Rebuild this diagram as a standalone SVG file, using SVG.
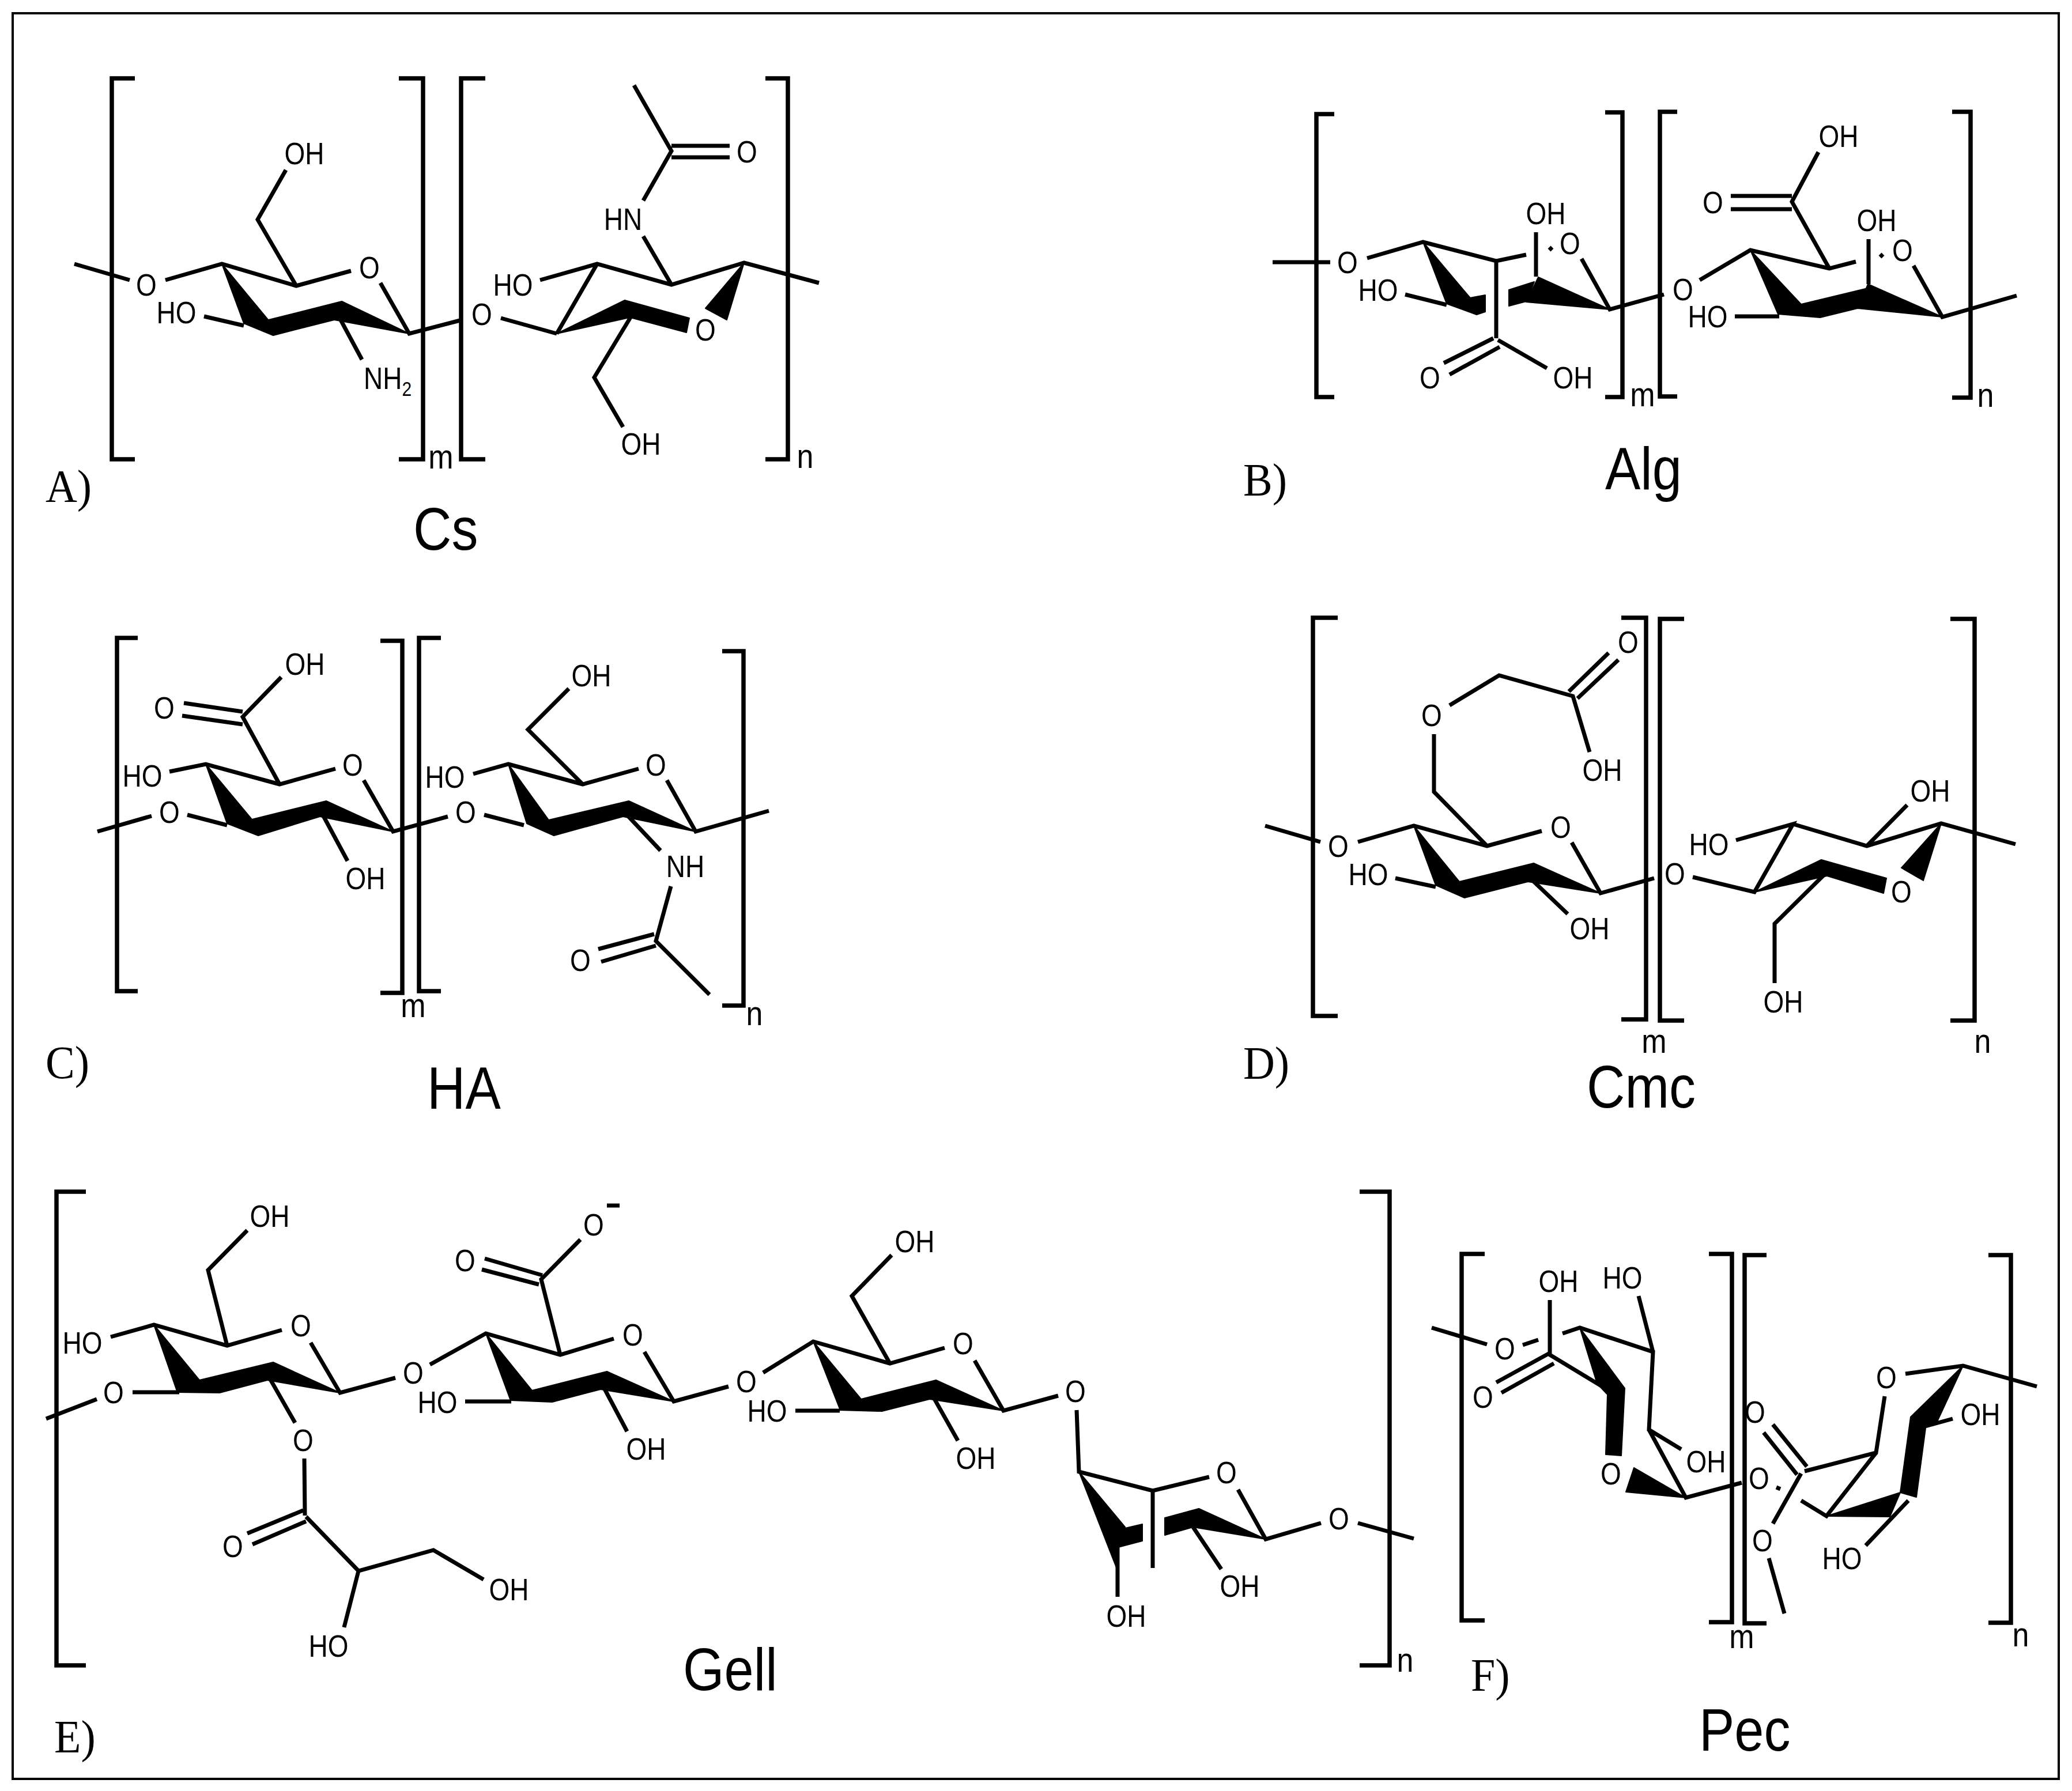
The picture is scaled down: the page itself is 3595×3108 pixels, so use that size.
<svg xmlns="http://www.w3.org/2000/svg" width="3595" height="3108" viewBox="0 0 3595 3108">
<style>
path.b{fill:none;stroke:#000;stroke-width:7;stroke-linejoin:miter}
path.k{fill:none;stroke:#000;stroke-width:7.5}
path.w{fill:#000;stroke:#000;stroke-width:2;stroke-linejoin:round}
text{font-family:"Liberation Sans",Arial,sans-serif;fill:#000;transform-box:fill-box;transform-origin:center}
text.a{font-size:46px;text-anchor:middle;transform:scaleY(1.18)}
text.s{font-size:52px;text-anchor:middle;transform:scaleY(1.15)}
text.t{font-size:92px;transform:translateY(3px) scaleY(1.12)}
text.p{font-family:"Liberation Serif","Times New Roman",serif;font-size:76px;transform:translateY(2px) scaleY(1.05)}
</style>
<rect width="3595" height="3108" fill="#fff"/>
<rect x="22" y="23" width="3550" height="3064" fill="none" stroke="#000" stroke-width="4"/>

<g id="panel-a">
<path class="k" d="M234 136H194V797H234M692 136H734V797H692M842 136H800V797H842M1328 136H1367V797H1328"/>
<path class="w" d="M385 458L423 561L466 556ZM423 561L474 582L580 555L593 523L466 555ZM710 579L593 523L580 555ZM966 579L1084 521L1097 550ZM1084 521L1196 552L1191 577L1090 550ZM1291 456L1224 535L1261 555Z"/>
<path class="b" d="M129 458L225 486M287 486L385 458L514 496L609 470M660 491L710 579L802 555M869 552L966 579M354 549L423 565M584 542L628 624M514 496L447 381L496 295M937 486L1036 458L1165 494L1291 456L1421 491M1036 458L966 579M1095 549L1031 655L1081 741M1165 494L1116 410M1116 348L1165 262L1100 148M1165 253H1266M1165 273H1266"/>
<text class="a" x="254" y="510">O</text><text class="a" x="641" y="480">O</text><text class="a" x="528" y="282">OH</text><text class="a" x="306" y="558">HO</text>
<text class="a" x="631" y="673" style="text-anchor:start">NH<tspan font-size="30" dy="10">2</tspan></text>
<text class="a" x="836" y="561">O</text><text class="a" x="890" y="510">HO</text><text class="a" x="1224" y="588">O</text><text class="a" x="1112" y="786">OH</text><text class="a" x="1081" y="396">HN</text><text class="a" x="1296" y="279">O</text>
<text class="s" x="765" y="810">m</text><text class="s" x="1397" y="809">n</text>
<text class="p" x="79" y="868">A)</text><text class="t" x="717" y="947">Cs</text>
</g>

<g id="panel-b">
<path class="k" d="M2315 198H2284V689H2315M2785 195H2815V689H2785M2910 194H2880V688H2910M3387 194H3419V690H3387"/>
<path class="w" d="M2469 420L2510 527L2550 516ZM2510 527L2562 546L2577 541V512L2550 517ZM2618 503L2662 489L2648 523L2618 531ZM2793 537L2669 481L2648 524ZM3037 434L3085 545L3125 528ZM3085 545L3158 551L3223 535L3241 500L3125 528ZM3370 550L3241 493L3223 535Z"/>
<path class="b" d="M2208 455H2308M2372 448L2469 420L2596 453L2648 442M2596 453V587M2665 403V480M2688 434L2693 429M2744 449L2793 537L2887 511M2949 486L3037 434L3174 466L3220 454M3174 466L3109 350L3155 264M3003 340H3109M3003 363H3109M3242 415V493M3262 446L3267 441M3320 461L3370 550L3499 513M2438 511L2510 529M2505 630L2591 587M2515 650L2602 602M2599 590L2684 639M3010 549H3087"/>
<text class="a" x="2338" y="471">O</text><text class="a" x="2682" y="386">OH</text><text class="a" x="2724" y="438">O</text><text class="a" x="2920" y="518">O</text><text class="a" x="3190" y="252">OH</text><text class="a" x="2972" y="367">O</text><text class="a" x="3256" y="398">OH</text><text class="a" x="3301" y="450">O</text><text class="a" x="2391" y="519">HO</text><text class="a" x="2481" y="671">O</text><text class="a" x="2729" y="671">OH</text><text class="a" x="2963" y="565">HO</text>
<text class="s" x="2850" y="702">m</text><text class="s" x="3445" y="703">n</text>
<text class="p" x="2157" y="857">B)</text><text class="t" x="2785" y="842">Alg</text>
</g>

<g id="panel-c">
<path class="k" d="M239 1107H203V1720H239M660 1112H698V1723H660M765 1107H727V1720H765M1253 1130H1290V1745H1253"/>
<path class="w" d="M357 1326L394 1429L437 1422ZM394 1429L448 1450L555 1417L566 1390L437 1422ZM682 1443L566 1390L555 1417ZM882 1326L914 1429L952 1423ZM914 1429L961 1450L1081 1417L1091 1390L952 1423ZM1207 1443L1091 1390L1081 1417Z"/>
<path class="b" d="M169 1443L263 1416M325 1414L394 1432M294 1339L357 1326L485 1361L582 1334M631 1354L682 1443L777 1417M485 1361L421 1244L488 1175M319 1220L421 1235M316 1242L421 1257M560 1414L603 1494M840 1414L909 1432M821 1343L882 1326L1011 1361L1108 1334M1157 1354L1207 1443L1334 1407M1011 1361L916 1266L987 1195M1083 1409L1146 1476M1164 1538L1138 1633L1231 1726M1038 1647L1135 1621M1043 1669L1138 1641"/>
<text class="a" x="294" y="1425">O</text><text class="a" x="247" y="1362">HO</text><text class="a" x="612" y="1343">O</text><text class="a" x="808" y="1425">O</text><text class="a" x="529" y="1168">OH</text><text class="a" x="285" y="1244">O</text><text class="a" x="634" y="1540">OH</text><text class="a" x="772" y="1364">HO</text><text class="a" x="1138" y="1343">O</text><text class="a" x="1026" y="1188">OH</text><text class="a" x="1189" y="1519">NH</text><text class="a" x="1007" y="1682">O</text>
<text class="s" x="717" y="1762">m</text><text class="s" x="1309" y="1776">n</text>
<text class="p" x="79" y="1868">C)</text><text class="t" x="741" y="1917">HA</text>
</g>

<g id="panel-d">
<path class="k" d="M2321 1072H2278V1763H2321M2813 1072H2856V1769H2813M2922 1074H2880V1771H2922M3384 1074H3426V1771H3384"/>
<path class="w" d="M2453 1433L2491 1536L2532 1530ZM2491 1536L2541 1558L2651 1530L2661 1498L2532 1530ZM2777 1550L2661 1498L2651 1530ZM3044 1548L3160 1492L3170 1520ZM3160 1492L3273 1524L3268 1550L3170 1520ZM3368 1429L3299 1506L3337 1528Z"/>
<path class="b" d="M2195 1433L2291 1461M2356 1461L2453 1433L2580 1468L2675 1442M2727 1462L2777 1550L2870 1524M2580 1468L2488 1374V1274M2515 1224L2601 1172L2729 1208L2758 1305M2722 1200L2791 1133M2737 1212L2808 1145M2421 1524L2491 1539M2655 1524L2720 1586M2937 1522L3044 1548L3111 1430L3012 1458M3111 1430L3239 1468L3368 1429L3497 1465M3239 1468L3309 1397M3165 1518L3079 1603V1706"/>
<text class="a" x="2322" y="1484">O</text><text class="a" x="2708" y="1451">O</text><text class="a" x="2906" y="1532">O</text><text class="a" x="2484" y="1257">O</text><text class="a" x="2825" y="1130">O</text><text class="a" x="2780" y="1352">OH</text><text class="a" x="2374" y="1533">HO</text><text class="a" x="2758" y="1627">OH</text><text class="a" x="2965" y="1481">HO</text><text class="a" x="3349" y="1388">OH</text><text class="a" x="3299" y="1563">O</text><text class="a" x="3094" y="1754">OH</text>
<text class="s" x="2870" y="1824">m</text><text class="s" x="3440" y="1824">n</text>
<text class="p" x="2157" y="1869">D)</text><text class="t" x="2753" y="1915">Cmc</text>
</g>

<g id="panel-e">
<path class="k" d="M149 2068H98V2890H149M2359 2068H2411V2890H2359"/>
<path class="w" d="M267 2299L307 2414L346 2395ZM307 2416L381 2417L464 2395L474 2364L346 2395ZM590 2417L474 2364L464 2395ZM843 2314L885 2428L923 2413ZM885 2430L958 2433L1042 2411L1053 2380L923 2413ZM1169 2432L1053 2380L1042 2411ZM1411 2328L1457 2445L1494 2428ZM1457 2447L1530 2449L1613 2428L1624 2395L1494 2428ZM1741 2448L1624 2395L1613 2428ZM1872 2554L1952 2650L1940 2671L1938 2723ZM1940 2685L1982 2674V2645L1952 2652L1940 2671ZM2021 2664V2634L2080 2618L2070 2650ZM2196 2671L2080 2618L2070 2650Z"/>
<path class="b" d="M80 2462L168 2428M230 2416H311M192 2320L267 2299L394 2335L489 2308M539 2330L590 2417L686 2391M394 2335L361 2204L429 2135M464 2385L512 2469M528 2531L529 2630M429 2661L526 2621M438 2680L531 2640M531 2632L622 2726L752 2690L839 2741M622 2726L597 2824M746 2368L843 2314L972 2351L1065 2323M1118 2346L1169 2432L1264 2406M972 2351L939 2220L1007 2151M841 2184L941 2213M836 2203L935 2229M807 2432H887M1043 2399L1088 2484M1053 2092H1075M1324 2382L1411 2328L1544 2366L1639 2339M1691 2361L1741 2448L1836 2422M1544 2366L1478 2249L1547 2178M1380 2448H1457M1613 2413L1662 2500M1868 2447L1872 2554L2000 2587L2098 2563M2148 2585L2196 2671L2292 2643M2356 2643L2453 2670M2000 2587V2721M2070 2650L2119 2723M1939 2671V2771"/>
<text class="a" x="197" y="2432">O</text><text class="a" x="143" y="2346">HO</text><text class="a" x="522" y="2316">O</text><text class="a" x="717" y="2398">O</text><text class="a" x="468" y="2126">OH</text><text class="a" x="526" y="2515">O</text><text class="a" x="404" y="2699">O</text><text class="a" x="883" y="2774">OH</text><text class="a" x="570" y="2872">HO</text>
<text class="a" x="1098" y="2332">O</text><text class="a" x="1030" y="2141">O</text><text class="a" x="807" y="2203">O</text><text class="a" x="759" y="2449">HO</text><text class="a" x="1121" y="2530">OH</text>
<text class="a" x="1295" y="2413">O</text><text class="a" x="1671" y="2347">O</text><text class="a" x="1587" y="2170">OH</text><text class="a" x="1331" y="2464">HO</text><text class="a" x="1693" y="2546">OH</text>
<text class="a" x="1866" y="2430">O</text><text class="a" x="2128" y="2571">O</text><text class="a" x="2323" y="2651">O</text><text class="a" x="2151" y="2768">OH</text><text class="a" x="1954" y="2820">OH</text>
<text class="s" x="2438" y="2898">n</text>
<text class="p" x="94" y="3038">E)</text><text class="t" x="1185" y="2926">Gell</text>
</g>

<g id="panel-f">
<path class="k" d="M2576 2176H2536V2812H2576M2965 2176H3005V2815H2965M3065 2178H3027V2817H3065M3450 2178H3489V2816H3450"/>
<path class="w" d="M2741 2304L2771 2401L2789 2420L2819 2409ZM2789 2420L2819 2409L2813 2526L2786 2524ZM2925 2599L2835 2547L2821 2589ZM3169 2631L3297 2590L3279 2632ZM3297 2590L3325 2598L3341 2478L3315 2459ZM3406 2370L3315 2459L3330 2478L3361 2467Z"/>
<path class="b" d="M2484 2304L2580 2333M2642 2334L2669 2325M2711 2314L2741 2304L2868 2346L2861 2481L2917 2515M2861 2481L2925 2599L3022 2573M2868 2346L2843 2249M2689 2256V2351L2793 2414M2596 2399L2687 2349M2605 2417L2696 2366M3306 2384L3406 2370L3534 2406M3270 2423L3255 2521L3131 2553M3255 2521L3169 2631L3125 2604M3082 2581L3089 2584M3060 2486L3118 2559M3076 2472L3135 2545M3125 2557L3076 2644M3069 2704L3096 2800M3330 2478L3388 2462M3311 2604L3237 2682"/>
<text class="a" x="2611" y="2356">O</text><text class="a" x="2960" y="2552">OH</text><text class="a" x="3052" y="2581">O</text><text class="a" x="2815" y="2233">HO</text><text class="a" x="2704" y="2239">OH</text><text class="a" x="2573" y="2440">O</text><text class="a" x="2795" y="2573">O</text><text class="a" x="3273" y="2406">O</text><text class="a" x="3045" y="2466">O</text><text class="a" x="3058" y="2689">O</text><text class="a" x="3436" y="2470">OH</text><text class="a" x="3196" y="2720">HO</text>
<text class="s" x="3022" y="2857">m</text><text class="s" x="3506" y="2854">n</text>
<text class="p" x="2552" y="2931">F)</text><text class="t" x="2948" y="3031">Pec</text>
</g>
</svg>
